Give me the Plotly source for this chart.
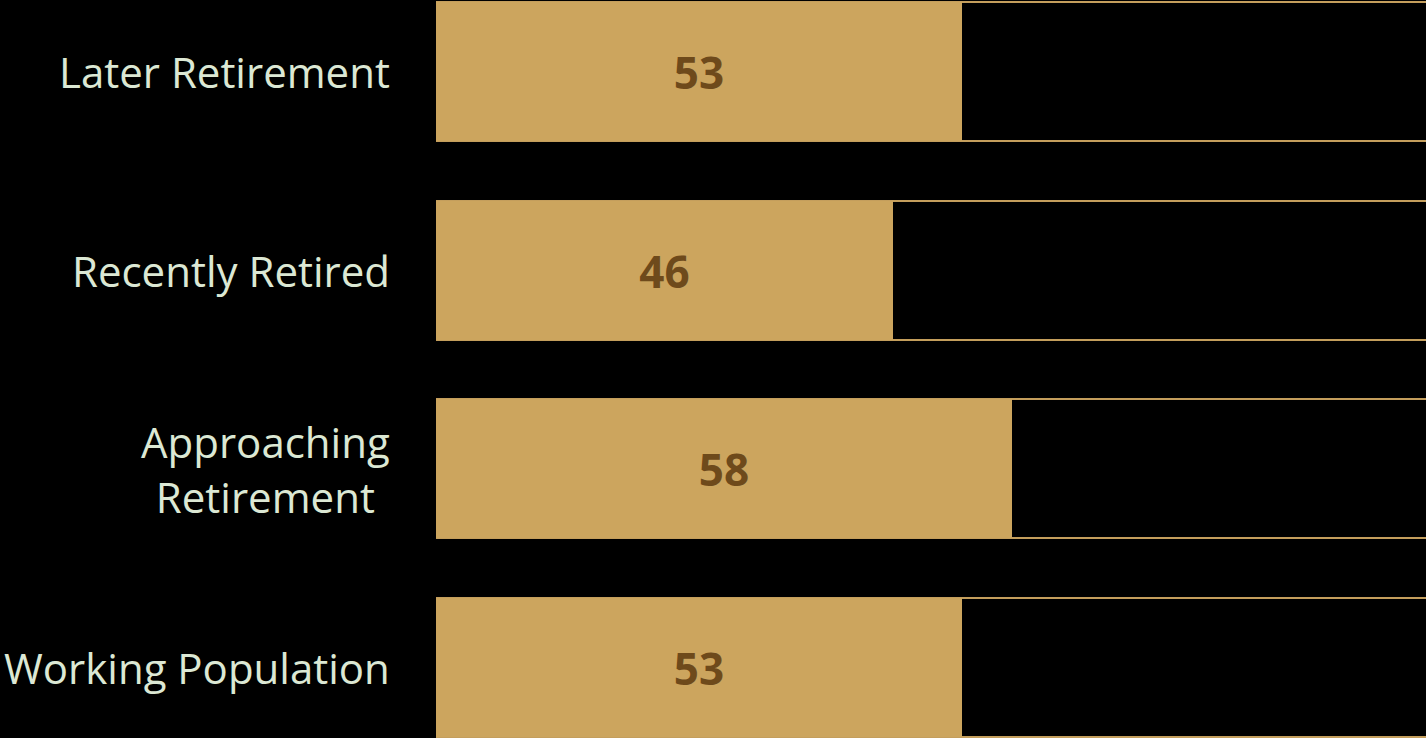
import plotly.graph_objects as go

# Segments listed bottom to top
categories = ["Working Population", "Approaching<br>Retirement", "Recently Retired", "Later Retirement"]
values = [53, 58, 46, 53]
full_scale = [100, 100, 100, 100]

fill_color = "#CCA55E"
edge_color = "#C49E5C"
value_color = "#6E4A1B"
label_color = "#DCE8D4"

positions = list(range(len(categories)))

fig = go.Figure()

# Outlined track representing 100
fig.add_trace(go.Bar(
    y=positions, x=full_scale, orientation="h", width=0.7,
    marker=dict(color="#000000", line=dict(color=edge_color, width=2)),
    hoverinfo="skip", showlegend=False,
))

# Filled portion with the value written in the middle
fig.add_trace(go.Bar(
    y=positions, x=values, orientation="h", width=0.7,
    marker=dict(color=fill_color, line=dict(width=0)),
    text=[str(v) for v in values], textposition="inside",
    insidetextanchor="middle", constraintext="none",
    textfont=dict(family="Open Sans", size=44, color=value_color, weight="bold"),
    showlegend=False,
))

# Category labels to the left of the bars
for pos, name in zip(positions, categories):
    fig.add_annotation(
        x=0, y=pos, xref="paper", yref="y", text=name,
        xanchor="right", yanchor="middle", align="center",
        xshift=-44, showarrow=False,
        font=dict(family="Open Sans", size=42, color=label_color),
    )

fig.update_layout(
    width=1426, height=738,
    margin=dict(l=436, r=0, t=0, b=0),
    paper_bgcolor="#000000", plot_bgcolor="#000000",
    barmode="overlay", bargap=0,
    xaxis=dict(range=[0, 99.75], visible=False, fixedrange=True),
    yaxis=dict(range=[-0.355, 3.36], visible=False, fixedrange=True),
)

fig.write_html("out.html")
